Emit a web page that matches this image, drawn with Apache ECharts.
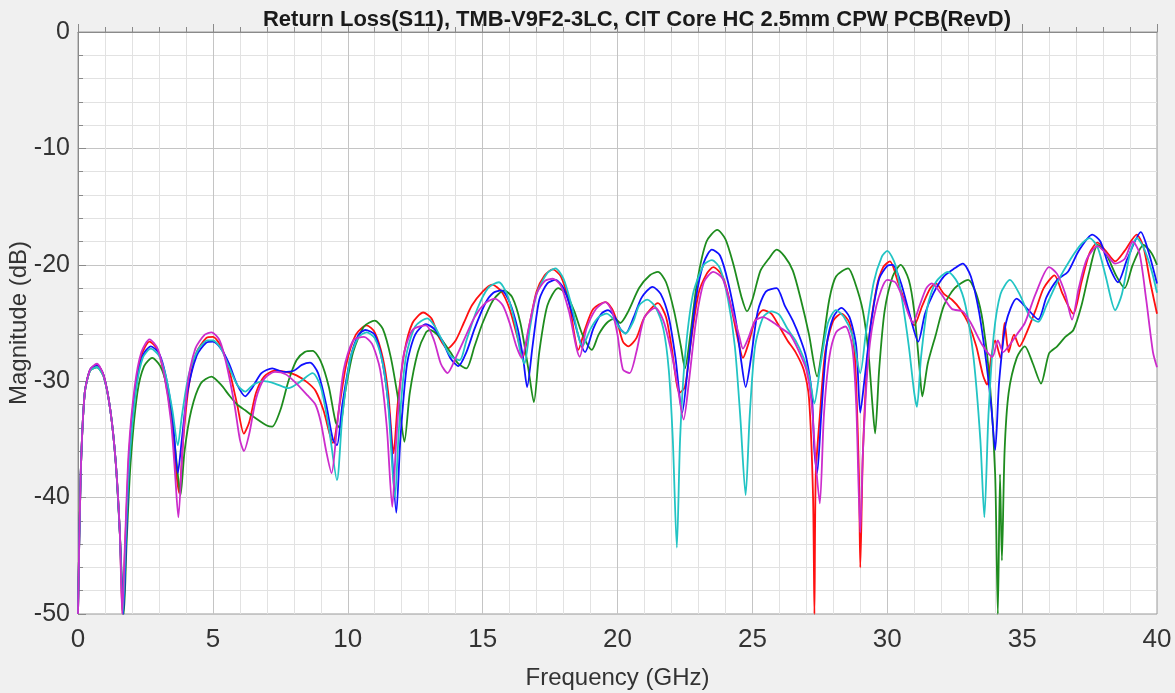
<!DOCTYPE html>
<html>
<head>
<meta charset="utf-8">
<script src="https://cdn.jsdelivr.net/npm/echarts@6/dist/echarts.min.js"></script>
<style>
  html, body { margin: 0; padding: 0; background: #f0f0f0; }
  #chart { width: 1175px; height: 693px; }
</style>
</head>
<body>
<div id="chart"></div>
<script>
// S11 traces, [GHz, dB]
const redPts = [[0,-50],[0.1,-38],[0.25,-31],[0.45,-29],[0.7,-28.6],[0.95,-29.5],[1.2,-32.5],[1.4,-37],[1.55,-43],[1.65,-50],
  [1.75,-44],[1.9,-36],[2.1,-31],[2.35,-27.8],[2.65,-26.6],[2.95,-27.3],[3.2,-29.5],[3.45,-33],[3.65,-38],[3.75,-39.6],[3.9,-35],[4.1,-30.5],[4.4,-27.5],[4.75,-26.3],[5.0,-26.2],[5.3,-27],[5.6,-29],[5.9,-32],[6.15,-34.5],[6.35,-33.5],[6.6,-31],[6.9,-29.6],[7.3,-29.1],[7.7,-29.2],[8.1,-29.5],[8.5,-30.1],[8.8,-30.8],[9.1,-32.5],[9.45,-35.3],[9.7,-32],[9.95,-28.5],[10.3,-26],[10.7,-25.2],[11.0,-25.8],[11.3,-28],[11.5,-31],[11.7,-36.2],[11.85,-32],[12.1,-27.5],[12.4,-25],[12.8,-24.1],[13.1,-24.6],[13.4,-26.3],[13.7,-27.2],[14.0,-26.5],[14.3,-25],[14.6,-23.5],[15.0,-22.3],[15.35,-21.7],[15.7,-22.3],[16.0,-23.8],[16.3,-26.3],[16.5,-27.9],[16.75,-25],[17.0,-22.3],[17.3,-20.9],[17.6,-20.4],[17.9,-21],[18.2,-23.2],[18.55,-27.3],[18.8,-25.5],[19.1,-23.8],[19.55,-23.2],[19.8,-23.8],[20.0,-25],[20.2,-26.6],[20.4,-27],[20.7,-26.3],[21.0,-24.5],[21.5,-23.3],[21.8,-24.5],[22.0,-27],[22.3,-31],[22.5,-30.5],[22.7,-27],[23.0,-22.5],[23.3,-20.8],[23.55,-20.2],[23.9,-21],[24.2,-23.5],[24.5,-26.8],[24.65,-28],[24.85,-26.8],[25.1,-24.8],[25.4,-23.9],[25.7,-24.2],[26.0,-25.3],[26.3,-26.5],[26.6,-27.5],[26.9,-29],[27.1,-31.5],[27.25,-40],[27.3,-50],[27.35,-38],[27.5,-33],[27.7,-27.5],[28.0,-24.8],[28.3,-24.2],[28.6,-25],[28.8,-28],[28.95,-38],[29.0,-46],[29.1,-36],[29.3,-27],[29.6,-22],[29.85,-20.2],[30.1,-19.7],[30.4,-21.5],[30.7,-23.5],[31.0,-25.2],[31.3,-23.5],[31.6,-22],[31.8,-21.6],[32.1,-22.5],[32.4,-23],[32.7,-23.8],[33.0,-25],[33.3,-27],[33.55,-29.5],[33.7,-30.3],[33.85,-28],[34.0,-26.5],[34.2,-28],[34.35,-25],[34.5,-27.5],[34.7,-26],[34.9,-27],[35.1,-26.2],[35.5,-23.9],[35.8,-22],[36.2,-20.9],[36.5,-22.5],[36.9,-24.2],[37.2,-21.5],[37.5,-19],[37.8,-18.1],[38.1,-18.8],[38.45,-19.7],[38.8,-18.8],[39.25,-17.4],[39.5,-18.5],[39.75,-21.5],[40,-24.2]];

const greenPts = [[0,-50],[0.1,-38],[0.25,-31],[0.45,-29.1],[0.7,-28.8],[0.95,-29.6],[1.2,-32.5],[1.4,-37],[1.55,-43],[1.7,-50],[1.8,-44],[1.95,-37],[2.2,-31],[2.45,-28.7],[2.75,-28],[3.05,-28.7],[3.3,-30.5],[3.5,-33.5],[3.7,-38],[3.8,-39.8],[3.95,-36],[4.2,-32.5],[4.55,-30.2],[4.95,-29.6],[5.3,-30.3],[5.6,-31.2],[5.9,-32],[6.2,-32.5],[6.6,-33.2],[7.0,-33.8],[7.2,-33.9],[7.5,-32.5],[7.8,-30],[8.1,-28.2],[8.4,-27.5],[8.7,-27.4],[9.0,-28.3],[9.3,-30.5],[9.55,-33.5],[9.7,-34],[9.9,-31],[10.2,-27.5],[10.6,-25.3],[11.0,-24.8],[11.3,-25.5],[11.6,-28],[11.9,-32],[12.1,-35.2],[12.3,-31],[12.6,-27.5],[12.9,-25.8],[13.05,-25.6],[13.4,-26.2],[13.8,-27.5],[14.1,-28.5],[14.4,-28.9],[14.7,-27],[15.0,-25],[15.4,-23],[15.8,-22.2],[16.1,-22.8],[16.4,-25],[16.7,-29],[16.9,-31.8],[17.1,-27.5],[17.4,-23.5],[17.8,-22],[18.1,-22.5],[18.4,-24],[18.7,-26],[19.05,-27.3],[19.3,-26],[19.6,-25],[19.9,-24.6],[20.1,-25],[20.4,-24],[20.8,-22],[21.2,-20.9],[21.5,-20.6],[21.8,-21.5],[22.1,-24],[22.35,-27],[22.5,-28.9],[22.7,-26],[22.95,-21.5],[23.3,-18],[23.7,-17],[24.0,-17.8],[24.3,-20],[24.6,-22.8],[24.8,-24],[25.0,-23],[25.3,-20.5],[25.6,-19.5],[25.9,-18.7],[26.2,-19.3],[26.5,-20.5],[26.8,-23],[27.1,-26],[27.4,-29.6],[27.6,-27],[27.85,-23],[28.1,-21],[28.55,-20.3],[28.8,-21.5],[29.1,-24],[29.3,-27.5],[29.45,-32],[29.55,-34.5],[29.7,-29],[29.9,-24],[30.2,-21],[30.5,-20],[30.8,-21.3],[31.0,-24],[31.2,-29],[31.3,-31.3],[31.5,-28.5],[31.8,-26],[32.1,-23.5],[32.5,-22],[33.0,-21.3],[33.3,-22.5],[33.55,-25],[33.8,-30],[34.0,-38],[34.1,-50],[34.18,-38],[34.25,-45.4],[34.35,-36],[34.5,-31],[34.8,-28],[35.1,-27],[35.4,-28.5],[35.7,-30.2],[36.0,-27.6],[36.3,-27],[36.6,-26.2],[36.9,-25.6],[37.2,-23.5],[37.5,-20.5],[37.8,-18.3],[38.1,-19],[38.5,-21],[38.8,-22],[39.1,-20],[39.5,-18.3],[39.8,-19],[40,-20]];

const bluePts = [[0,-50],[0.1,-38],[0.25,-31],[0.45,-29],[0.7,-28.6],[0.95,-29.5],[1.2,-32.5],[1.4,-37],[1.55,-43],[1.68,-50],[1.78,-44],[1.92,-36],[2.15,-30.5],[2.4,-27.8],[2.7,-27],[3.0,-27.6],[3.25,-29.5],[3.5,-33],[3.7,-37.9],[3.85,-35],[4.05,-31],[4.4,-27.8],[4.75,-26.7],[5.0,-26.6],[5.3,-27.2],[5.6,-28.5],[5.9,-30.3],[6.2,-31.3],[6.45,-30.6],[6.8,-29.3],[7.2,-28.9],[7.6,-29.2],[8.0,-29.1],[8.3,-28.6],[8.6,-28.4],[8.9,-29.3],[9.2,-32],[9.45,-35],[9.6,-35.5],[9.8,-32],[10.1,-28],[10.4,-26],[10.65,-25.6],[11.0,-26],[11.3,-28.5],[11.55,-33],[11.8,-41.3],[11.95,-35],[12.2,-28.5],[12.5,-26],[12.9,-25.1],[13.2,-25.5],[13.5,-26.5],[13.8,-28],[14.1,-28.7],[14.4,-27.5],[14.7,-25.5],[15.1,-23.3],[15.4,-22.4],[15.7,-22.2],[16.0,-23.2],[16.3,-25.5],[16.5,-28],[16.65,-30.5],[16.85,-27],[17.1,-23],[17.4,-21.6],[17.7,-21.3],[18.0,-22],[18.3,-24],[18.6,-26.5],[18.8,-27.5],[19.1,-25.5],[19.4,-24.2],[19.65,-23.9],[19.9,-24.5],[20.1,-25.5],[20.3,-25.9],[20.6,-24.5],[20.9,-22.8],[21.3,-21.9],[21.6,-22.5],[21.9,-24.5],[22.15,-28],[22.4,-32.7],[22.6,-29],[22.9,-23],[23.2,-19.8],[23.5,-18.7],[23.8,-19.2],[24.1,-21.5],[24.4,-25],[24.6,-28.5],[24.75,-30.5],[24.95,-28],[25.2,-24],[25.5,-22.3],[25.9,-22],[26.2,-23.5],[26.5,-24.8],[26.8,-26.5],[27.0,-28],[27.2,-31],[27.3,-36],[27.4,-37.9],[27.55,-33],[27.75,-27],[28.0,-24.5],[28.3,-23.7],[28.6,-24.5],[28.85,-27],[29.0,-32.7],[29.15,-30],[29.4,-25],[29.7,-21.2],[30.0,-20.1],[30.2,-20],[30.5,-21.5],[30.8,-24],[31.15,-26.6],[31.4,-24.2],[31.7,-22.5],[32.1,-21],[32.5,-20.3],[32.8,-19.9],[33.1,-21],[33.4,-24],[33.65,-28],[33.85,-32],[34.0,-35.9],[34.15,-30],[34.4,-25],[34.8,-22.9],[35.2,-23.8],[35.6,-24.7],[35.9,-22.8],[36.3,-21.3],[36.7,-20.6],[37.1,-18.8],[37.6,-17.4],[37.9,-18],[38.2,-20],[38.55,-21.5],[38.9,-19.5],[39.4,-17.2],[39.7,-19],[40,-21.6]];

const cyanPts = [[0,-50],[0.1,-38],[0.25,-31],[0.45,-29.1],[0.7,-28.8],[0.95,-29.6],[1.2,-32.5],[1.4,-37],[1.55,-43],[1.66,-50],[1.76,-44],[1.9,-37],[2.15,-30.8],[2.4,-28],[2.7,-27.2],[3.0,-27.8],[3.25,-29.5],[3.5,-32.5],[3.7,-35.5],[3.85,-33],[4.1,-29.5],[4.45,-27.3],[4.8,-26.5],[5.0,-26.5],[5.3,-27.2],[5.6,-28.8],[5.9,-30.3],[6.2,-30.9],[6.5,-30.3],[6.9,-30],[7.3,-30.2],[7.8,-30.6],[8.2,-30.1],[8.7,-29.3],[9.0,-30.5],[9.3,-34],[9.6,-38.5],[9.8,-33],[10.1,-28],[10.4,-26.2],[10.7,-25.8],[11.0,-26.3],[11.3,-28.5],[11.5,-32],[11.75,-40],[11.9,-34],[12.15,-28],[12.5,-25.3],[12.95,-24.6],[13.2,-25.2],[13.5,-26.5],[13.8,-27.8],[14.15,-28.2],[14.4,-26.5],[14.8,-23.8],[15.2,-22],[15.6,-21.5],[15.9,-22.5],[16.2,-25],[16.4,-27.5],[16.55,-28.5],[16.75,-25.5],[17.0,-22.5],[17.4,-20.7],[17.7,-20.3],[18.0,-21.2],[18.3,-23.5],[18.7,-27],[19.0,-25.5],[19.3,-24.5],[19.6,-24.2],[19.9,-24.8],[20.1,-25.5],[20.3,-25.9],[20.6,-24.8],[20.8,-23.5],[21.1,-23],[21.4,-23.6],[21.7,-25.5],[21.9,-29],[22.05,-35],[22.2,-44.3],[22.32,-35],[22.5,-28],[22.8,-22.5],[23.2,-20],[23.5,-19.6],[23.8,-20.3],[24.1,-23],[24.35,-27],[24.55,-33],[24.75,-39.8],[24.9,-33],[25.1,-27],[25.4,-24.5],[25.7,-24],[26.0,-24.3],[26.3,-25.5],[26.6,-26.5],[26.9,-28],[27.1,-29.5],[27.3,-31.9],[27.5,-29],[27.8,-25],[28.1,-23.9],[28.4,-24.5],[28.7,-26],[29.0,-29.3],[29.2,-26],[29.5,-21.5],[29.8,-19.3],[30.0,-18.8],[30.3,-20],[30.55,-23],[30.8,-27],[31.0,-31],[31.1,-32.2],[31.25,-28],[31.5,-23.5],[31.8,-21.5],[32.25,-20.6],[32.6,-21.5],[32.9,-23.5],[33.2,-28],[33.45,-35],[33.6,-41.7],[33.75,-33],[33.95,-26],[34.2,-22.5],[34.55,-21.3],[34.9,-22.5],[35.3,-24.5],[35.6,-24.9],[35.9,-23.5],[36.3,-21.5],[36.8,-19.5],[37.2,-18.2],[37.5,-17.7],[37.8,-18.5],[38.1,-21],[38.45,-23.9],[38.7,-22.5],[39.0,-19],[39.25,-17.7],[39.5,-18.5],[39.8,-20.5],[40,-22.4]];

const magentaPts = [[0,-50],[0.1,-38],[0.25,-31],[0.45,-29],[0.7,-28.5],[0.95,-29.5],[1.2,-32.5],[1.4,-37],[1.55,-43],[1.64,-50],[1.74,-44],[1.88,-36],[2.1,-30.5],[2.35,-27.5],[2.65,-26.4],[2.95,-27.2],[3.2,-29.5],[3.45,-33.5],[3.6,-38],[3.72,-41.7],[3.87,-36],[4.05,-30.5],[4.35,-27.2],[4.7,-26],[4.95,-25.8],[5.25,-26.5],[5.5,-28.5],[5.8,-32],[6.0,-35],[6.15,-36],[6.35,-34.5],[6.6,-31.5],[6.9,-29.8],[7.3,-29.2],[7.7,-29.4],[8.1,-30.2],[8.5,-31.2],[8.8,-32],[9.0,-33.5],[9.2,-36],[9.4,-37.9],[9.6,-34],[9.85,-29],[10.2,-26.5],[10.6,-26.2],[10.9,-26.8],[11.2,-29],[11.45,-34],[11.65,-40.8],[11.8,-35],[12.05,-28],[12.4,-25.6],[12.9,-25.2],[13.2,-26.5],[13.45,-28.5],[13.7,-29.3],[14.0,-28],[14.3,-26.5],[14.7,-24.5],[15.1,-23.3],[15.45,-22.9],[15.75,-23.5],[16.0,-25],[16.25,-27],[16.45,-28],[16.7,-25.5],[17.0,-22.5],[17.3,-21.4],[17.6,-21.2],[17.9,-21.8],[18.2,-24],[18.6,-27.9],[18.85,-25.5],[19.2,-23.8],[19.55,-23.2],[19.8,-24],[20.0,-26],[20.2,-29],[20.45,-29.3],[20.7,-27.5],[21.0,-24.5],[21.4,-23.7],[21.7,-24.8],[21.95,-27],[22.2,-30],[22.45,-33.3],[22.65,-30],[22.9,-25],[23.2,-21.5],[23.55,-20.6],[23.9,-21.2],[24.2,-23.5],[24.5,-26],[24.65,-27.2],[24.85,-26.3],[25.1,-24.8],[25.4,-24.5],[25.8,-25],[26.1,-25.5],[26.4,-26],[26.7,-27.3],[27.0,-29],[27.2,-32],[27.35,-37],[27.5,-40.5],[27.65,-33],[27.85,-28],[28.1,-25.8],[28.45,-25.3],[28.7,-27],[28.85,-32],[29.0,-43],[29.1,-36],[29.3,-28],[29.6,-23.5],[30.0,-21.3],[30.3,-21.5],[30.6,-23],[30.95,-25],[31.2,-23.5],[31.45,-22],[31.65,-21.6],[32.0,-22.5],[32.4,-23.8],[32.8,-24],[33.1,-25],[33.5,-26.8],[33.9,-27.9],[34.1,-26.5],[34.3,-27.5],[34.5,-27],[34.8,-26],[35.1,-25],[35.5,-22.5],[36.0,-20.2],[36.3,-20.8],[36.6,-22.5],[36.85,-24.7],[37.1,-22],[37.4,-19.5],[37.8,-18.4],[38.1,-19],[38.45,-19.9],[38.8,-19.5],[39.1,-18],[39.35,-19],[39.6,-23],[39.85,-27.5],[40,-28.8]];

const traces = [
  { name: 'red', color: '#ff1010', pts: redPts },
  { name: 'green', color: '#1e8c1e', pts: greenPts },
  { name: 'blue', color: '#1010ff', pts: bluePts },
  { name: 'cyan', color: '#22c4c4', pts: cyanPts },
  { name: 'magenta', color: '#cc2ccc', pts: magentaPts }
];

const font = '"Liberation Sans", Arial, sans-serif';
const chart = echarts.init(document.getElementById('chart'));

chart.setOption({
  backgroundColor: '#f0f0f0',
  animation: false,
  title: {
    text: 'Return Loss(S11), TMB-V9F2-3LC, CIT Core HC 2.5mm CPW PCB(RevD)',
    left: 632,
    top: 4,
    textAlign: 'center',
    textStyle: { fontFamily: font, fontSize: 22, fontWeight: 'bold', color: '#1a1a1a' }
  },
  grid: {
    left: 78, right: 18, top: 32, bottom: 79,
    containLabel: false,
    outerBoundsMode: 'none',
    show: true, backgroundColor: '#fff', borderColor: '#9a9a9a', borderWidth: 1
  },
  xAxis: {
    type: 'value',
    min: 0, max: 40, interval: 5,
    name: 'Frequency (GHz)',
    nameLocation: 'middle',
    nameGap: 52,
    nameTextStyle: { fontFamily: font, fontSize: 24, color: '#333' },
    axisLine: { lineStyle: { color: '#8a8a8a' } },
    axisTick: { inside: true, length: 8, lineStyle: { color: '#8a8a8a' } },
    minorTick: { show: true, splitNumber: 5, length: 5, lineStyle: { color: '#8a8a8a' } },
    axisLabel: { fontFamily: font, fontSize: 26, color: '#333', margin: 13 },
    splitLine: { lineStyle: { color: '#c4c4c4' } },
    minorSplitLine: { show: true, lineStyle: { color: '#e2e2e2' } }
  },
  yAxis: {
    type: 'value',
    min: -50, max: 0, interval: 10,
    name: 'Magnitude (dB)',
    nameLocation: 'middle',
    nameGap: 47,
    nameMoveOverlap: false,
    nameTextStyle: { fontFamily: font, fontSize: 24, color: '#333' },
    axisLine: { show: true, lineStyle: { color: '#8a8a8a' } },
    axisTick: { show: true, inside: true, length: 8, lineStyle: { color: '#8a8a8a' } },
    minorTick: { show: true, splitNumber: 5, length: 5, lineStyle: { color: '#8a8a8a' } },
    axisLabel: { fontFamily: font, fontSize: 25, color: '#333', margin: 8 },
    splitLine: { lineStyle: { color: '#c4c4c4' } },
    minorSplitLine: { show: true, lineStyle: { color: '#e2e2e2' } }
  },
  series: traces.map(t => ({
    name: t.name,
    type: 'line',
    data: t.pts,
    showSymbol: false,
    smooth: 0.25,
    clip: true,
    lineStyle: { color: t.color, width: 1.8 },
    itemStyle: { color: t.color }
  }))
});

window.addEventListener('resize', function () {
  chart.resize();
});
</script>
</body>
</html>
